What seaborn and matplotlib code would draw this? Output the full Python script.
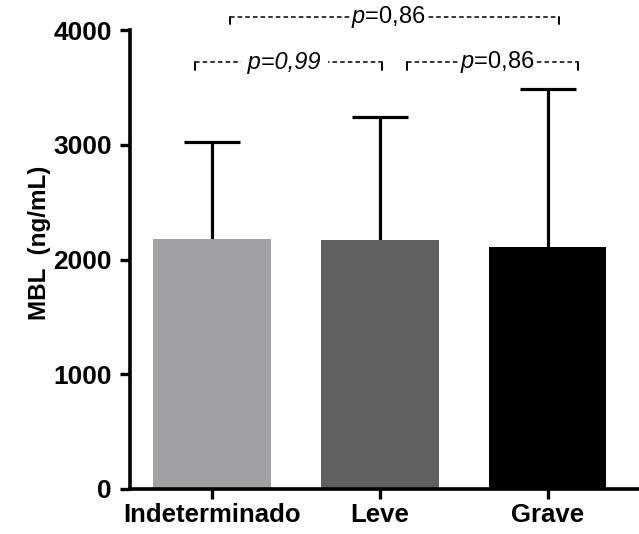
import matplotlib
matplotlib.use("Agg")
import matplotlib.pyplot as plt
import seaborn as sns
import numpy as np
import pandas as pd

categories = ["Indeterminado", "Leve", "Grave"]
means = [2180, 2172, 2110]
upper = [3026, 3243, 3487]
colors = ["#A1A0A5", "#606060", "#000000"]
yticks = [0, 1000, 2000, 3000, 4000]
ylabel = "MBL  (ng/mL)"

sns.set_theme(style="ticks")
plt.rcParams["font.family"] = ["Liberation Sans", "DejaVu Sans"]
plt.rcParams["mathtext.fontset"] = "custom"
plt.rcParams["mathtext.it"] = "Liberation Sans:italic"
plt.rcParams["mathtext.rm"] = "Liberation Sans"
plt.rcParams["text.color"] = "black"
plt.rcParams["axes.labelcolor"] = "black"
plt.rcParams["xtick.color"] = "black"
plt.rcParams["ytick.color"] = "black"

df = pd.DataFrame({"grupo": categories, "mbl": means})

fig = plt.figure(figsize=(6.39, 5.34), dpi=100)
ax = fig.add_axes([130 / 639, 45 / 534, (640 - 130) / 639, 459 / 534])

sns.barplot(data=df, x="grupo", y="mbl", hue="grupo", palette=colors,
            width=0.70, errorbar=None, legend=False, ax=ax,
            edgecolor="none", linewidth=0, zorder=2)

x = np.arange(len(categories))
err_up = np.array(upper) - np.array(means)
eb = ax.errorbar(x, means, yerr=[np.zeros(len(x)), err_up], fmt="none",
                 ecolor="black", elinewidth=2.3, capsize=20, capthick=2.3,
                 zorder=1)
# keep only the upper caps
for cl in eb[1]:
    if np.allclose(cl.get_ydata(), means):
        cl.set_visible(False)

ax.set_ylim(0, 4000)
ax.set_xlim(-0.49, 2.55)
ax.set_yticks(yticks)
ax.set_yticklabels([str(t) for t in yticks], fontsize=19, fontweight="bold")
ax.set_xticks(x)
ax.set_xticklabels(categories, fontsize=18.5, fontweight="bold")
ax.set_xlabel("")
ax.set_ylabel(ylabel, fontsize=17.5, fontweight="bold")
ax.yaxis.set_label_coords(-0.155, 0.536)

for s in ["top", "right"]:
    ax.spines[s].set_visible(False)
for s in ["left", "bottom"]:
    ax.spines[s].set_linewidth(2.6)
    ax.spines[s].set_color("black")
ax.tick_params(axis="both", width=2.4, length=7, color="black")
ax.tick_params(axis="y", pad=6)
ax.tick_params(axis="x", pad=3)

# significance brackets
dash = dict(color="black", linewidth=1.1, linestyle=(0, (3, 2)), clip_on=False)
solid = dict(color="black", linewidth=1.4, clip_on=False)
box = dict(facecolor="white", edgecolor="none", pad=0.5)

def bracket(x0, x1, xt, y, drop, text, **kw):
    ax.plot([x0, x1], [y, y], **dash)
    ax.plot([x0, x0], [y, y - drop], **solid)
    ax.plot([x1, x1], [y, y - drop], **solid)
    ax.text(xt, y, text, ha="center", va="center", fontsize=17,
            bbox=box, **kw)

bracket(0.107, 2.07, 1.05, 4110, 60, r"$p$=0,86")
bracket(-0.10, 1.01, 0.43, 3720, 65, " p=0,99 ", fontstyle="italic")
bracket(1.16, 2.18, 1.70, 3720, 65, r"$p$=0,86")

fig.savefig("out.png", dpi=100)
